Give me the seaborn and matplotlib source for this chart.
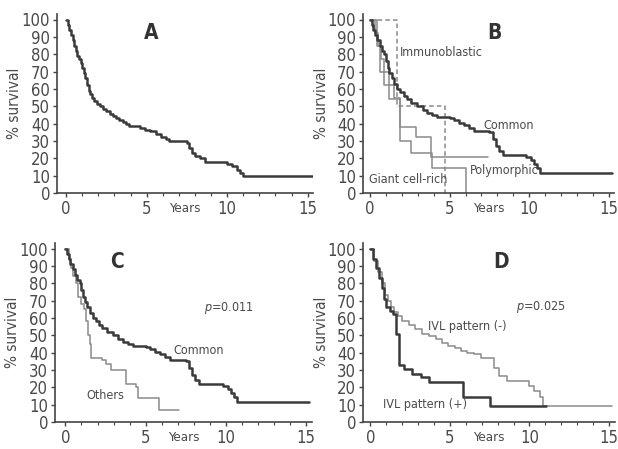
import numpy as np
import pandas as pd
import seaborn as sns
import matplotlib
matplotlib.use("Agg")
import matplotlib.pyplot as plt
from matplotlib.ticker import MultipleLocator

# ---------------- data (Kaplan-Meier steps, years / % survival) ----------------
all_t = [0, 0.1, 0.2, 0.3, 0.4, 0.5, 0.6, 0.7, 0.8, 0.9, 1.0, 1.1, 1.2, 1.3, 1.4, 1.5, 1.6, 1.7,
         1.9, 2.1, 2.3, 2.5, 2.7, 2.9, 3.1, 3.3, 3.5, 3.7, 3.9, 4.6, 4.9, 5.2, 5.6, 5.9, 6.2, 6.4,
         7.5, 7.6, 7.8, 8.0, 8.3, 8.6, 10.0, 10.3, 10.6, 10.8, 11.0, 15.3]
all_s = [100, 97, 94, 91, 88, 85, 82, 79, 77, 75, 72, 69, 66, 62, 59, 57, 55, 53,
         51.5, 50, 48.5, 47, 45.5, 44.5, 43.5, 42, 41, 40, 38.5, 37.5, 36.5, 35.5, 34, 32.5, 31, 30,
         29, 26, 23, 21.5, 20, 18, 17, 15.5, 13.5, 11.5, 9.6, 9.6]

common_t = [0, 0.1, 0.2, 0.3, 0.45, 0.6, 0.75, 0.9, 1.0, 1.1, 1.2, 1.35, 1.5, 1.7, 1.9,
            2.1, 2.3, 2.6, 2.95, 3.3, 3.6, 3.9, 4.2, 5.0, 5.3, 5.6, 5.9, 6.2, 6.5,
            7.5, 7.7, 7.9, 8.1, 8.35, 9.8, 10.1, 10.3, 10.5, 10.7, 15.2]
common_s = [100, 97, 94, 91, 88, 85, 82, 80, 76, 72, 69, 66, 63, 60, 58,
            56, 54, 52, 50, 48, 46, 45, 44, 43, 42, 40.5, 39, 37.5, 36,
            35, 31, 27, 24, 22, 21, 19, 17, 14.5, 11.5, 11.5]

immuno_t = [0, 1.7, 4.7]
immuno_s = [100, 50, 0]

polymorphic_t = [0, 0.3, 0.5, 0.7, 0.9, 1.2, 1.5, 1.85, 2.9, 3.8, 7.4]
polymorphic_s = [100, 92, 85, 77, 70, 62, 55, 38, 32, 21, 21]

giant_t = [0, 0.4, 0.6, 0.9, 1.2, 1.85, 2.6, 3.9, 6.0]
giant_s = [100, 85, 70, 62, 54, 30, 23, 14.5, 0]

others_t = [0, 0.2, 0.35, 0.5, 0.65, 0.8, 1.0, 1.15, 1.3, 1.4, 1.5, 1.6, 2.3, 2.5, 2.85,
            3.8, 4.4, 4.5, 5.8, 7.1]
others_s = [100, 94, 89, 84, 80, 72, 68, 65, 58, 50, 45, 37, 36, 33.5, 30,
            22, 20, 14, 6.7, 6.7]

ivl_pos_t = [0, 0.15, 0.37, 0.55, 0.7, 0.85, 1.0, 1.2, 1.4, 1.6, 1.8, 2.1, 2.6, 3.2, 3.7,
             5.8, 7.5, 11.05]
ivl_pos_s = [100, 94, 88.6, 83, 77, 71, 66, 64, 62, 50.5, 33, 30.5, 27.6, 25.7, 22.9,
             14.3, 9.5, 9.5]

ivl_neg_t = [0, 0.2, 0.45, 0.7, 0.9, 1.1, 1.3, 1.5, 1.7, 2.0, 2.4, 2.8, 3.25, 3.7, 4.1, 4.5,
             4.9, 5.3, 5.7, 6.1, 6.5, 6.95, 7.8, 8.1, 8.6, 10.0, 10.3, 10.65, 10.85, 15.2]
ivl_neg_s = [100, 93, 86.7, 80, 73, 70, 66, 63.5, 61, 58.5, 56, 53.5, 51, 49.5, 47.6, 45.5,
             43.8, 42.5, 41, 40, 39, 37, 31.4, 26.7, 23.8, 21, 18, 14.3, 9.5, 9.5]

panel_letters = ["A", "B", "C", "D"]
x_ticks = [0, 5, 10, 15]
y_ticks = [0, 10, 20, 30, 40, 50, 60, 70, 80, 90, 100]

# ---------------- style ----------------
sns.set_theme(style="white")
plt.rcParams["font.family"] = ["DejaVu Sans"]
plt.rcParams["font.stretch"] = "condensed"
DARK = "#3a3a3a"
LIGHT = "#8a8a8a"
TXT = "#4a4a4a"

fig = plt.figure(figsize=(6.18, 4.49), dpi=100)
fig.patch.set_facecolor("white")

W, H = 618, 449
def add_axes(spine_x, zero_y, xlo, pxyr):
    xhi = 15.35
    w = (xhi - xlo) * pxyr
    h = 103 * 1.735
    ax = fig.add_axes([spine_x / W, (H - zero_y) / H, w / W, h / H])
    ax.set_xlim(xlo, xhi)
    ax.set_ylim(0, 103)
    return ax

axA = add_axes(57, 193, -0.57, 16.1)
axB = add_axes(363, 193, -0.45, 15.9)
axC = add_axes(55, 422, -0.65, 16.05)
axD = add_axes(363, 422, -0.47, 15.9)

def km(ax, t, s, color, lw, ls="-"):
    df = pd.DataFrame({"Years": t, "surv": s})
    sns.lineplot(data=df, x="Years", y="surv", ax=ax, color=color, linewidth=lw,
                 estimator=None, drawstyle="steps-post", linestyle=ls, legend=False)

km(axA, all_t, all_s, DARK, 1.8)

km(axB, giant_t, giant_s, LIGHT, 1.1)
km(axB, polymorphic_t, polymorphic_s, LIGHT, 1.1)
km(axB, immuno_t, immuno_s, LIGHT, 1.1, ls=(0, (3, 2)))
km(axB, common_t, common_s, DARK, 1.8)

km(axC, others_t, others_s, LIGHT, 1.1)
km(axC, common_t, common_s, DARK, 1.8)

km(axD, ivl_neg_t, ivl_neg_s, LIGHT, 1.1)
km(axD, ivl_pos_t, ivl_pos_s, DARK, 1.8)

for ax, letter, lx in zip([axA, axB, axC, axD], panel_letters, [5.3, 7.8, 3.2, 8.2]):
    sns.despine(ax=ax)
    for sp in ["left", "bottom"]:
        ax.spines[sp].set_color("#444444")
        ax.spines[sp].set_linewidth(1.2)
    ax.set_xticks(x_ticks)
    ax.set_yticks(y_ticks)
    ax.xaxis.set_minor_locator(MultipleLocator(1))
    ax.tick_params(axis="both", which="major", direction="out", length=3, width=1,
                   color="#444444", labelsize=12, labelcolor=TXT, pad=2, bottom=True, left=True)
    ax.tick_params(axis="x", which="minor", direction="out", length=2, width=0.8,
                   color="#444444", bottom=True)
    ax.set_xlabel("Years", fontsize=9.5, color=TXT)
    ax.xaxis.set_label_coords(0.5, -0.085)
    ax.xaxis.label.set_va("center")
    ax.set_ylabel("% survival", fontsize=11, color=TXT)
    ax.yaxis.set_label_coords(-0.165, 0.5)
    ax.yaxis.label.set_va("center")
    ax.text(lx, 92, letter, fontsize=15, fontweight="bold", color="#333333",
            ha="center", va="center")
    ax.grid(False)

tk = dict(fontsize=9, color=TXT)
axB.text(1.9, 81, "Immunoblastic", ha="left", va="center", **tk)
axB.text(7.1, 39, "Common", ha="left", va="center", **tk)
axB.text(6.3, 13, "Polymorphic", ha="left", va="center", **tk)
axB.text(-0.1, 7.5, "Giant cell-rich", ha="left", va="center", **tk)

axC.text(10.2, 65.5, "$\\it{p}$=0.011", ha="center", va="center", **tk)
axC.text(6.7, 41, "Common", ha="left", va="center", **tk)
axC.text(1.3, 15.5, "Others", ha="left", va="center", **tk)

axD.text(10.7, 66, "$\\it{p}$=0.025", ha="center", va="center", **tk)
axD.text(3.6, 55, "IVL pattern (-)", ha="left", va="center", **tk)
axD.text(0.8, 10, "IVL pattern (+)", ha="left", va="center", **tk)

fig.savefig("out.png", dpi=100, facecolor="white")
